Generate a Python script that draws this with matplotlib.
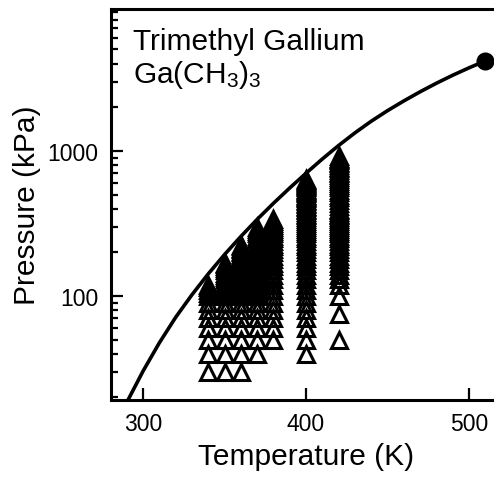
import numpy as np
import matplotlib
matplotlib.use("Agg")
from matplotlib import pyplot as plt
from matplotlib.ticker import LogLocator, NullFormatter, FixedLocator

plt.rcParams['font.family'] = ['Liberation Sans', 'DejaVu Sans']
plt.rcParams['mathtext.fontset'] = 'custom'
plt.rcParams['mathtext.rm'] = 'Liberation Sans'
plt.rcParams['mathtext.it'] = 'Liberation Sans'

# vapour pressure curve (K, kPa)
curve_T = [288, 290, 300, 310, 320, 330, 340, 350, 360, 370, 380, 390, 400, 410,
           420, 430, 440, 450, 460, 470, 480, 490, 500, 510]
curve_P = [16.7, 18.5, 30.4, 47.6, 71.3, 102, 142, 193, 257, 337, 435, 555, 701, 879,
           1089, 1330, 1600, 1892, 2208, 2553, 2924, 3319, 3733, 4168]

# critical point
crit_T = [510.0]
crit_P = [4168]

# measured states, one isotherm per temperature
temps = [340, 350, 360, 370, 380, 400, 420]
p_340 = [30, 40, 50, 60, 70, 80, 90, 100, 105, 110, 115, 120]
p_350 = [30, 40, 50, 60, 70, 80, 90, 100, 105, 110, 115, 120, 125, 130, 135, 140, 145, 150, 155, 160, 165, 170]
p_360 = [30, 40, 50, 60, 70, 80, 90, 100, 105, 110, 115, 120, 125, 130, 135, 140, 145, 150, 155, 160, 165,
         170, 175, 180, 185, 190, 195, 200, 205, 210, 215, 220, 225]
p_370 = [40, 50, 60, 70, 80, 90, 100, 105, 110, 115, 120, 125, 130, 135, 140, 145, 150, 155, 160, 165, 170,
         175, 180, 185, 190, 195, 200, 205, 210, 215, 220, 225, 230, 240, 250, 260, 270, 280, 290, 300]
p_380 = [50, 60, 70, 80, 90, 100, 110, 120, 130, 140, 150, 160, 170, 180, 190, 200, 210, 220, 230, 240,
         250, 260, 270, 280, 290, 300, 310, 320, 330, 340]
p_400 = [40, 50, 60, 70, 80, 90, 100, 110, 120, 130, 140, 150, 160, 170, 180, 190, 200, 210, 220, 230, 240,
         250, 260, 270, 280, 290, 300, 310, 320, 330, 340, 350, 360, 370, 380, 390, 400, 410, 420, 430,
         440, 450, 460, 470, 480, 490, 500, 510, 520, 530, 540, 550, 560, 570, 580, 590, 600, 610, 620,
         630, 640]
p_420 = [50, 75, 100, 120, 130, 140, 150, 160, 170, 180, 190, 200, 210, 220, 230, 240, 250, 260, 270, 280,
         290, 300, 310, 320, 330, 340, 350, 360, 370, 380, 390, 400, 420, 440, 460, 480, 500, 520, 540,
         560, 580, 600, 620, 640, 660, 680, 700, 720, 740, 760, 780, 800, 820, 840, 860, 880, 900, 920]
pressures = [p_340, p_350, p_360, p_370, p_380, p_400, p_420]

W, H = 494, 481
fig = plt.figure(figsize=(W / 100, H / 100), dpi=100)
ax = fig.add_axes([110.5 / W, (H - 401) / H, 391 / W, 391 / H])

# open triangles, no fill, so the dense parts of each isotherm go solid black
for T, ps in zip(temps, pressures):
    ax.plot([T] * len(ps), ps, linestyle='none', marker='^', markersize=11,
            markerfacecolor='none', markeredgecolor='black', markeredgewidth=2.2)

ax.plot(curve_T, curve_P, color='black', linewidth=2.6, solid_capstyle='butt')
ax.plot(crit_T, crit_P, 'o', color='black', markersize=12)

ax.set_yscale('log')
ax.set_xlim(280, 520)
ax.set_ylim(19.2, 9500)

ax.xaxis.set_major_locator(FixedLocator([300, 400, 500]))
ax.yaxis.set_major_locator(FixedLocator([100, 1000]))
ax.yaxis.set_major_formatter(plt.FuncFormatter(lambda v, p: f"{v:.0f}"))
ax.yaxis.set_minor_locator(LogLocator(base=10, subs=np.arange(2, 10)))
ax.yaxis.set_minor_formatter(NullFormatter())

ax.tick_params(axis='both', which='major', direction='in', length=8.5, width=1.6,
               labelsize=16.5, pad=9, top=False, right=False)
ax.tick_params(axis='y', which='minor', direction='in', length=5, width=1.6, right=False)
for s in ax.spines.values():
    s.set_linewidth(2.2)

ax.set_xlabel('Temperature (K)', fontsize=21.5, labelpad=5)
ax.set_ylabel('Pressure (kPa)', fontsize=21.5, labelpad=4)

ax.text(0.0575, 0.898, 'Trimethyl Gallium', transform=ax.transAxes, fontsize=21.5, va='baseline')
ax.text(0.0575, 0.813, r'Ga(CH$_3$)$_3$', transform=ax.transAxes, fontsize=21.5, va='baseline')

fig.savefig('out.png', dpi=100)
